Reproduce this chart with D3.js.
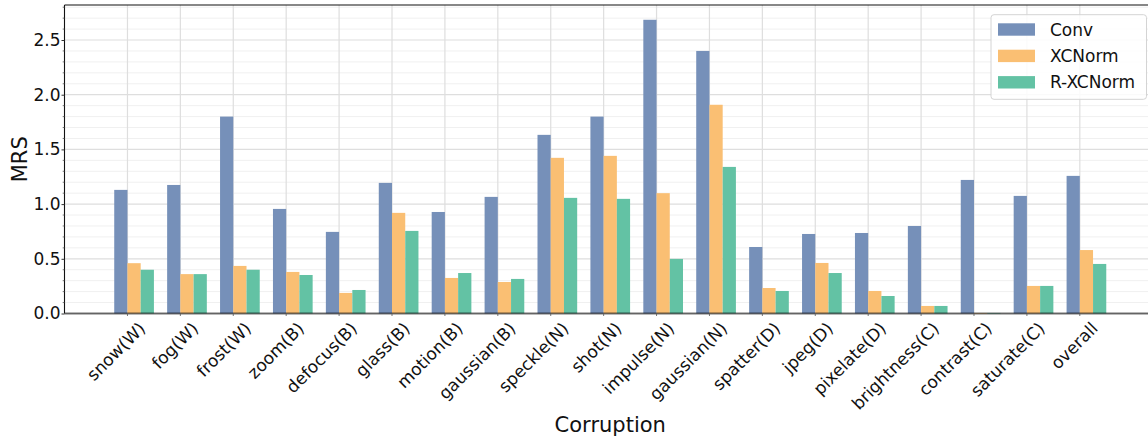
<!DOCTYPE html>
<html>
<head>
<meta charset="utf-8">
<script src="https://cdn.jsdelivr.net/npm/d3@7"></script>
<style>
  html, body { margin: 0; padding: 0; background: #fff; }
  svg { display: block; font-family: "DejaVu Sans", sans-serif; }
</style>
</head>
<body>
<svg id="chart" width="1148" height="438"></svg>
<script>
// Corruption categories and mean relative score (MRS) per model
const categories = ["snow(W)", "fog(W)", "frost(W)", "zoom(B)", "defocus(B)", "glass(B)",
  "motion(B)", "gaussian(B)", "speckle(N)", "shot(N)", "impulse(N)", "gaussian(N)",
  "spatter(D)", "jpeg(D)", "pixelate(D)", "brightness(C)", "contrast(C)", "saturate(C)", "overall"];
const convValues   = [1.13, 1.175, 1.80, 0.956, 0.746, 1.194, 0.928, 1.066, 1.633, 1.80, 2.685, 2.40,
  0.608, 0.727, 0.736, 0.80, 1.221, 1.075, 1.258];
const xcnormValues = [0.46, 0.36, 0.435, 0.38, 0.188, 0.92, 0.325, 0.288, 1.423, 1.441, 1.10, 1.908,
  0.233, 0.462, 0.206, 0.069, 0.005, 0.252, 0.58];
const rxcnormValues = [0.40, 0.36, 0.40, 0.352, 0.215, 0.755, 0.37, 0.316, 1.057, 1.048, 0.499, 1.34,
  0.206, 0.37, 0.16, 0.069, 0.005, 0.252, 0.453];
const seriesNames = ["Conv", "XCNorm", "R-XCNorm"];
const yMajorTicks = [0, 0.5, 1.0, 1.5, 2.0, 2.5];

const series = [
  { name: seriesNames[0], values: convValues,    color: "#7690b9", offset: -0.25 },
  { name: seriesNames[1], values: xcnormValues,  color: "#fabf73", offset: 0 },
  { name: seriesNames[2], values: rxcnormValues, color: "#63c2a4", offset: 0.25 }
];
const barWidth = 0.25;

const svg = d3.select("#chart");
const plot = { left: 64.5, top: 5, right: 1156, bottom: 313.5 };

const x = d3.scaleLinear().domain([-1.19, 19.44]).range([plot.left, plot.right]);
const y = d3.scaleLinear().domain([0, 2.82]).range([plot.bottom, plot.top]);

// minor horizontal grid every 0.1
const minorTicks = d3.range(0, 2.85, 0.1).filter(v => Math.abs(v * 2 - Math.round(v * 2)) > 1e-6);
svg.append("g").selectAll("line").data(minorTicks).join("line")
  .attr("x1", plot.left).attr("x2", plot.right)
  .attr("y1", d => y(d)).attr("y2", d => y(d))
  .attr("stroke", "#f0f0f0").attr("stroke-width", 1);

// major grid
svg.append("g").selectAll("line").data(yMajorTicks).join("line")
  .attr("x1", plot.left).attr("x2", plot.right)
  .attr("y1", d => y(d)).attr("y2", d => y(d))
  .attr("stroke", "#dedede").attr("stroke-width", 1.2);
svg.append("g").selectAll("line").data(categories).join("line")
  .attr("x1", (d, i) => x(i)).attr("x2", (d, i) => x(i))
  .attr("y1", plot.top).attr("y2", plot.bottom)
  .attr("stroke", "#dedede").attr("stroke-width", 1.2);

// bars: Conv left of the tick, XCNorm and R-XCNorm to its right
series.forEach(s => {
  svg.append("g").selectAll("rect").data(s.values).join("rect")
    .attr("x", (d, i) => x(i + s.offset))
    .attr("width", x(barWidth) - x(0))
    .attr("y", d => y(d))
    .attr("height", d => y(0) - y(d))
    .attr("fill", s.color);
});

// spines
svg.append("line").attr("x1", plot.left).attr("x2", plot.right)
  .attr("y1", plot.top).attr("y2", plot.top).attr("stroke", "#111").attr("stroke-width", 1.1);
svg.append("line").attr("x1", plot.left).attr("x2", plot.left)
  .attr("y1", plot.top).attr("y2", plot.bottom).attr("stroke", "#111").attr("stroke-width", 1.1);
svg.append("line").attr("x1", plot.left).attr("x2", plot.right)
  .attr("y1", plot.bottom).attr("y2", plot.bottom)
  .attr("stroke", "#000").attr("stroke-opacity", 0.55).attr("stroke-width", 2);

// y axis ticks and labels
const yAxis = d3.axisLeft(y).tickValues(yMajorTicks).tickFormat(d3.format(".1f"))
  .tickSize(3).tickPadding(1);
const yg = svg.append("g").attr("transform", `translate(${plot.left},0)`).call(yAxis);
yg.select(".domain").remove();
yg.selectAll("text").attr("font-size", 17).attr("fill", "#111").attr("font-family", "DejaVu Sans");
yg.selectAll("line").attr("stroke", "#333");
svg.append("g").selectAll("line").data(minorTicks).join("line")
  .attr("x1", plot.left - 1.8).attr("x2", plot.left)
  .attr("y1", d => y(d)).attr("y2", d => y(d))
  .attr("stroke", "#555").attr("stroke-width", 0.8);

// x ticks and rotated labels
svg.append("g").selectAll("line").data(categories).join("line")
  .attr("x1", (d, i) => x(i)).attr("x2", (d, i) => x(i))
  .attr("y1", plot.bottom).attr("y2", plot.bottom + 2.5)
  .attr("stroke", "#555").attr("stroke-width", 0.8);
svg.append("g").selectAll("text").data(categories).join("text")
  .attr("transform", (d, i) => `translate(${x(i) + 19},${plot.bottom + 16}) rotate(-45)`)
  .attr("text-anchor", "end")
  .attr("font-size", 17)
  .attr("fill", "#111")
  .text(d => d);

// axis titles
svg.append("text")
  .attr("transform", `translate(${27},${(plot.top + plot.bottom) / 2}) rotate(-90)`)
  .attr("text-anchor", "middle").attr("font-size", 21).attr("fill", "#111")
  .text("MRS");
svg.append("text")
  .attr("x", (plot.left + plot.right) / 2).attr("y", 432)
  .attr("text-anchor", "middle").attr("font-size", 21).attr("fill", "#111")
  .text("Corruption");

// legend
const legend = svg.append("g");
legend.append("rect")
  .attr("x", 991).attr("y", 14.7).attr("width", 155.5).attr("height", 84.6)
  .attr("rx", 3).attr("fill", "#fff").attr("fill-opacity", 0.85)
  .attr("stroke", "#d4d4d4").attr("stroke-width", 1);
series.forEach((s, k) => {
  legend.append("rect")
    .attr("x", 998).attr("y", 23.3 + k * 26.4).attr("width", 37).attr("height", 12.4)
    .attr("fill", s.color);
  legend.append("text")
    .attr("x", 1050).attr("y", 35.5 + k * 26.4)
    .attr("font-size", 17).attr("fill", "#111")
    .text(s.name);
});
</script>
</body>
</html>
